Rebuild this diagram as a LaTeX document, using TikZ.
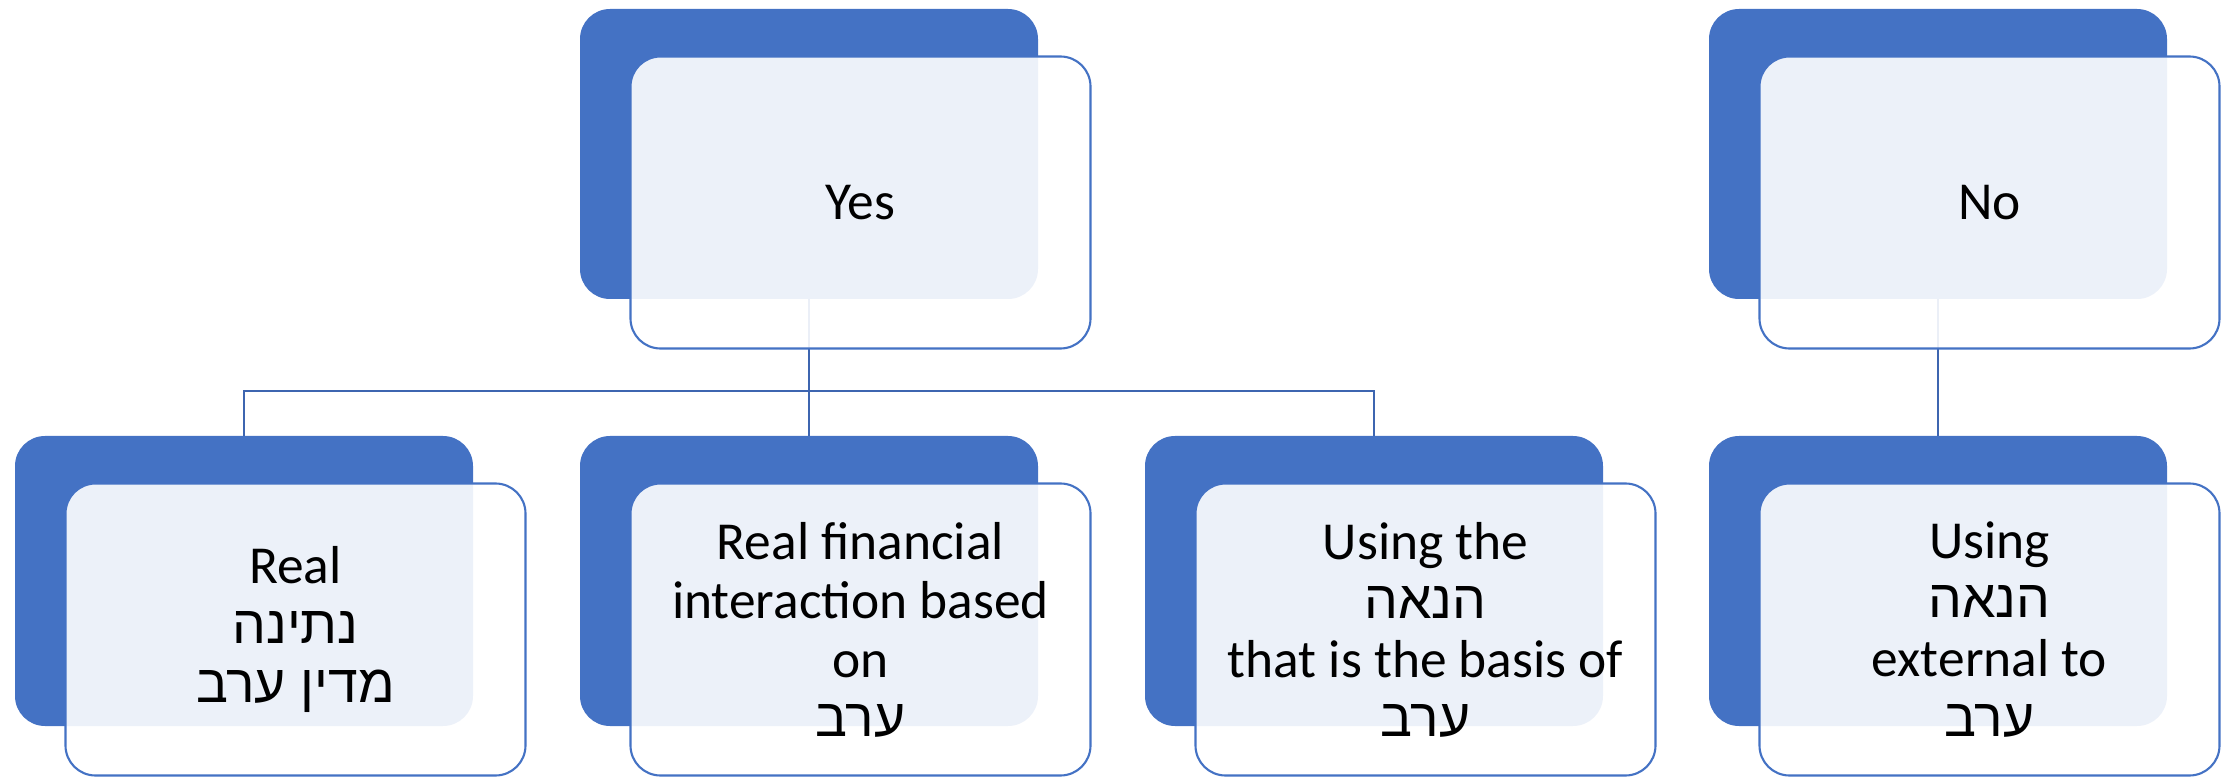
\documentclass[tikz,border=0pt]{standalone}
\usepackage{fontspec}
\setmainfont{Carlito}
\newfontfamily\hebfont[Script=Hebrew]{Liberation Sans}
\TeXXeTstate=1
\newcommand{\heb}[1]{{\hebfont\beginR #1\endR}}
\usetikzlibrary{calc}

\definecolor{accent}{HTML}{4472C4}
\definecolor{linkblue}{HTML}{3D65B0}

\tikzstyle{backbox}=[fill=accent, rounded corners=0.3cm, minimum width=4.58cm,
  minimum height=2.9cm, inner sep=0pt, outer sep=0pt]
\tikzstyle{frontbox}=[draw=accent, line width=0.6pt, fill=white, fill opacity=0.9,
  text opacity=1, rounded corners=0.3cm, minimum width=4.6cm, minimum height=2.92cm,
  inner sep=0pt, outer sep=0pt, align=center, font=\fontsize{15.2}{16.8}\selectfont]
\tikzstyle{link}=[draw=linkblue, line width=0.6pt]

\begin{document}
\begin{tikzpicture}
\useasboundingbox (0,0) rectangle (22.36,7.76);

% back blocks
\node[backbox] (yesB) at (8.09,6.22) {};
\node[backbox] (noB) at (19.38,6.22) {};
\foreach \x/\name in {2.44/realB,8.09/finB,13.74/basisB,19.38/extB}{%
    \node[backbox] (\name) at (\x,1.95) {};
}

% connectors, under the front blocks
\coordinate (split) at (8.09,3.85);
\draw[link] (yesB.south) -- (finB.north);
\draw[link] (realB.north) |- (split) -| (basisB.north);
\draw[link] (noB.south) -- (extB.north);

% front blocks
\node[frontbox] (yes) at ([shift={(0.515,-0.485)}]yesB) {Yes};
\node[frontbox] (no) at ([shift={(0.515,-0.485)}]noB) {No};
\node[frontbox] (real) at ([shift={(0.515,-0.485)}]realB)
    {Real\\ \heb{נתינה}\\ \heb{מדין ערב}};
\node[frontbox] (fin) at ([shift={(0.515,-0.485)}]finB)
    {Real financial\\ interaction based\\ on\\ \heb{ערב}};
\node[frontbox] (basis) at ([shift={(0.515,-0.485)}]basisB)
    {Using the\\ \heb{הנאה}\\ that is the basis of\\ \heb{ערב}};
\node[frontbox] (ext) at ([shift={(0.515,-0.485)}]extB)
    {Using\\ \heb{הנאה}\\ external to\\ \heb{ערב}};

\end{tikzpicture}
\end{document}
